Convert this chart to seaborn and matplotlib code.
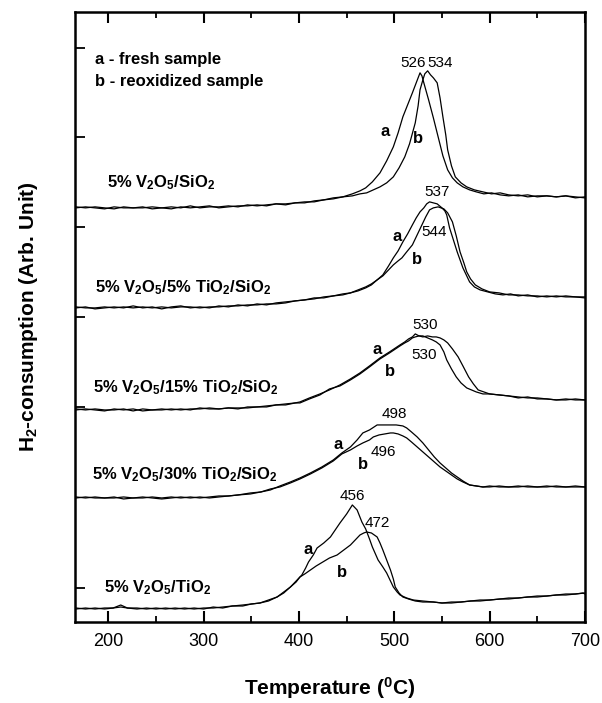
import matplotlib
matplotlib.use("Agg")
import matplotlib.pyplot as plt
from matplotlib.ticker import MultipleLocator, FixedLocator
import numpy as np
import pandas as pd
import seaborn as sns

# ---- TPR profiles: (temperature in degC, H2 signal above the trace's own baseline) ----
v_sio2_a = [(166,0),(176,1),(186,0),(196,-1),(206,1),(216,0),(226,0),(236,1),(246,-1),(256,0),(266,1),(276,0),
            (286,2),(296,0),(306,1),(316,1),(326,2),(336,1),(346,3),(356,2),(366,3),(376,4),(386,3),(396,5),
            (406,6),(416,6),(426,8),(436,9),(446,11),(456,14),(464,17),(470,20),(477,26),(485,35),(492,47),
            (499,61),(504,75),(509,91),(514,103),(519,115),(523,125),(527,135),(529,132),(531,125),(536,108),
            (541,90),(546,71),(551,52),(556,38),(561,30),(566,25),(572,21),(579,18),(586,16),(594,14),(602,15),
            (611,13),(620,12),(630,13),(640,11),(650,12),(660,12),(670,11),(680,12),(690,10),(700,11)]
v_sio2_b = [(166,1),(176,0),(186,1),(196,0),(206,-1),(216,1),(226,0),(236,0),(246,1),(256,0),(266,-1),(276,1),
            (286,0),(296,1),(306,2),(316,0),(326,1),(336,2),(346,2),(356,3),(366,2),(376,4),(386,4),(396,5),
            (406,5),(416,7),(426,8),(436,10),(446,11),(456,12),(464,14),(471,15),(478,18),(485,21),(492,25),
            (499,31),(505,40),(511,51),(516,64),(522,85),(525,102),(527,118),(530,128),(532,134),(535,137),
            (538,133),(541,130),(545,125),(548,110),(551,91),(554,73),(556,58),(560,42),(564,31),(570,25),
            (576,21),(584,18),(593,16),(602,14),(611,15),(620,13),(630,12),(640,13),(650,11),(660,12),(670,11),
            (680,12),(690,11),(700,10)]

v5ti_a = [(166,0),(176,1),(186,-1),(196,0),(206,1),(216,0),(226,2),(236,0),(246,1),(256,-1),(266,1),(276,2),
          (286,0),(296,1),(306,0),(316,2),(326,1),(336,3),(346,2),(356,4),(366,3),(376,5),(386,6),(396,7),
          (406,8),(416,10),(426,10),(436,12),(446,14),(454,15),(462,18),(470,21),(476,24),(482,28),(488,33),
          (494,42),(499,50),(504,57),(509,66),(514,74),(519,83),(523,90),(527,96),(531,100),(534,104),(537,106),
          (541,105),(545,104),(550,100),(553,97),(555,93),(558,80),(562,68),(566,56),(569,48),(572,40),(576,32),
          (579,26),(584,21),(590,18),(598,16),(606,14),(614,13),(622,14),(630,12),(640,13),(650,11),(660,12),
          (670,11),(680,12),(690,11),(700,11)]
v5ti_b = [(166,1),(176,0),(186,0),(196,1),(206,0),(216,1),(226,0),(236,1),(246,0),(256,1),(266,0),(276,1),
          (286,1),(296,0),(306,1),(316,1),(326,2),(336,2),(346,3),(356,3),(366,4),(376,4),(386,5),(396,7),
          (406,8),(416,9),(426,11),(436,12),(446,13),(454,15),(462,17),(470,20),(476,23),(482,28),(488,32),
          (494,38),(499,43),(504,47),(508,50),(513,56),(519,63),(524,73),(529,83),(533,91),(537,98),(541,100),
          (546,101),(549,100),(552,99),(556,95),(561,86),(565,72),(569,56),(573,45),(576,36),(580,29),(585,23),
          (592,19),(600,16),(610,15),(620,13),(630,13),(640,12),(650,12),(660,11),(670,12),(680,11),(690,11),
          (700,10)]

v15ti_a = [(166,0),(176,1),(186,0),(196,-1),(206,1),(216,0),(226,1),(236,-1),(246,0),(256,1),(266,0),(276,1),
           (286,0),(296,2),(306,1),(316,1),(326,2),(336,1),(346,3),(356,3),(366,4),(376,5),(386,6),(396,7),
           (401,8),(411,12),(422,16),(432,20),(443,25),(454,31),(464,37),(474,44),(485,52),(495,58),(506,65),
           (511,68),(515,71),(519,73),(522,76),(526,74),(530,73),(535,74),(540,73),(544,73),(548,72),(552,70),
           (556,67),(561,61),(567,53),(572,44),(578,33),(583,26),(588,20),(594,18),(600,16),(610,15),(620,14),
           (630,13),(640,12),(650,12),(660,11),(670,10),(680,11),(690,10),(700,10)]
v15ti_b = [(166,1),(176,0),(186,1),(196,0),(206,0),(216,1),(226,-1),(236,1),(246,0),(256,0),(266,1),(276,0),
           (286,1),(296,1),(306,2),(316,1),(326,2),(336,2),(346,2),(356,3),(366,3),(376,5),(386,5),(396,7),
           (401,7),(411,11),(422,15),(432,21),(443,24),(454,30),(464,36),(474,43),(485,51),(495,57),(506,64),
           (511,67),(515,69),(519,72),(522,73),(526,74),(530,74),(535,72),(540,70),(544,68),(548,65),(552,58),
           (555,50),(560,41),(565,33),(570,27),(576,22),(581,20),(586,18),(593,16),(600,16),(610,15),(620,14),
           (630,12),(640,13),(650,11),(660,11),(670,10),(680,10),(690,11),(700,10)]

v30ti_a = [(166,0),(176,1),(186,0),(196,0),(206,1),(216,-1),(226,0),(236,1),(246,0),(256,-1),(266,0),(276,1),
           (286,0),(296,1),(306,0),(316,1),(326,2),(336,3),(349,5),(360,6),(370,8),(380,12),(391,16),(401,20),
           (412,25),(424,31),(436,38),(445,45),(454,51),(461,58),(467,65),(474,68),(482,73),(490,73),(496,73),
           (502,73),(509,72),(513,70),(518,66),(524,61),(530,55),(536,48),(542,41),(548,35),(554,30),(560,25),
           (566,21),(572,17),(579,13),(586,12),(593,11),(600,12),(610,11),(620,11),(630,12),(640,11),(650,11),
           (660,12),(670,11),(680,11),(690,12),(700,11)]
v30ti_b = [(166,1),(176,0),(186,1),(196,0),(206,0),(216,1),(226,0),(236,0),(246,1),(256,0),(266,1),(276,0),
           (286,1),(296,0),(306,1),(316,2),(326,2),(336,3),(349,4),(360,6),(370,9),(380,11),(391,15),(401,19),
           (412,24),(424,30),(436,37),(445,44),(454,48),(461,52),(467,55),(474,58),(478,61),(484,63),(490,64),
           (496,65),(499,65),(504,64),(509,62),(513,60),(518,56),(524,51),(530,46),(536,41),(542,36),(548,31),
           (554,27),(560,23),(566,19),(572,16),(579,13),(586,12),(593,11),(600,11),(610,12),(620,11),(630,11),
           (640,12),(650,11),(660,11),(670,12),(680,11),(690,11),(700,11)]

vtio2_a = [(166,0),(176,1),(186,0),(196,1),(205,1),(213,4),(220,1),(230,0),(240,1),(250,0),(260,1),(270,0),
           (280,1),(290,0),(300,1),(310,1),(320,2),(330,3),(341,4),(350,5),(359,6),(368,9),(377,12),(384,17),
           (391,22),(397,28),(403,34),(407,41),(410,47),(415,54),(419,61),(426,66),(433,72),(438,79),(443,86),
           (450,95),(456,104),(461,99),(466,87),(470,80),(474,70),(477,62),(483,49),(488,42),(492,36),(496,28),
           (499,22),(503,17),(506,14),(513,11),(520,9),(530,8),(541,7),(550,6),(560,7),(570,7),(580,8),(590,8),
           (600,9),(611,10),(620,10),(630,11),(640,12),(650,12),(660,13),(670,14),(680,14),(690,15),(698,16),
           (700,15)]
vtio2_b = [(166,1),(176,0),(186,1),(196,0),(205,1),(213,2),(220,1),(230,1),(240,0),(250,1),(260,0),(270,1),
           (280,0),(290,1),(300,0),(310,2),(320,1),(330,3),(341,3),(350,5),(359,6),(368,8),(377,12),(384,16),
           (391,22),(397,27),(401,32),(406,35),(412,39),(418,43),(425,47),(432,51),(440,54),(447,59),(454,64),
           (459,69),(464,74),(468,76),(471,77),(476,76),(479,74),(482,72),(485,66),(488,59),(492,49),(496,39),
           (499,30),(501,22),(505,16),(509,12),(515,10),(522,8),(530,7),(541,7),(550,6),(560,6),(570,7),(580,8),
           (590,9),(600,9),(611,10),(620,11),(630,11),(640,12),(650,13),(660,13),(670,14),(680,15),(690,15),
           (700,16)]

samples = ["5% V$_2$O$_5$/SiO$_2$", "5% V$_2$O$_5$/5% TiO$_2$/SiO$_2$", "5% V$_2$O$_5$/15% TiO$_2$/SiO$_2$",
           "5% V$_2$O$_5$/30% TiO$_2$/SiO$_2$", "5% V$_2$O$_5$/TiO$_2$"]
offsets = [414, 314, 212, 124, 13]          # vertical stacking of the traces
fresh = [v_sio2_a, v5ti_a, v15ti_a, v30ti_a, vtio2_a]
reox = [v_sio2_b, v5ti_b, v15ti_b, v30ti_b, vtio2_b]

# peak maxima labels: (text, T position, y position)
peak_labels = [("526", 520, 559), ("534", 548, 559), ("537", 545, 430), ("544", 542, 390),
               ("530", 532, 297), ("530", 531, 267), ("498", 500, 208), ("496", 489, 170),
               ("456", 456, 126), ("472", 482, 99)]
# curve letters: (letter, T, y)
curve_letters = [("a", 490, 490), ("b", 525, 483), ("a", 503, 385), ("b", 524, 362),
                 ("a", 482, 272), ("b", 496, 250), ("a", 441, 177), ("b", 467, 157),
                 ("a", 410, 72), ("b", 445, 49)]
sample_pos = [(199, 439), (186, 334), (184, 234), (183, 147), (195, 34)]

rows = []
for name, off, fa, rb in zip(samples, offsets, fresh, reox):
    for run, pts in (("a", fa), ("b", rb)):
        for t, s in pts:
            rows.append({"sample": name, "run": run, "curve": name + run, "T": t, "H2": s + off})
df = pd.DataFrame(rows)

sns.set_theme(style="ticks")
plt.rcParams["font.family"] = ["Liberation Sans", "DejaVu Sans"]
plt.rcParams["mathtext.fontset"] = "custom"
plt.rcParams["mathtext.rm"] = "Liberation Sans:bold"
plt.rcParams["mathtext.bf"] = "Liberation Sans:bold"
plt.rcParams["mathtext.default"] = "rm"
for key in ("text.color", "axes.labelcolor", "xtick.color", "ytick.color", "axes.edgecolor"):
    plt.rcParams[key] = "black"

fig = plt.figure(figsize=(6.02, 7.03), dpi=100)
ax = fig.add_axes([0.1246, 0.1152, 0.847, 0.868])

sns.lineplot(data=df, x="T", y="H2", units="curve", estimator=None, sort=False,
             color="black", linewidth=0.9, ax=ax, legend=False)

ax.set_xlim(165, 700)
ax.set_ylim(0, 610)
ax.xaxis.set_major_locator(MultipleLocator(100))
ax.xaxis.set_minor_locator(MultipleLocator(50))
ax.yaxis.set_major_locator(FixedLocator([34, 215, 305, 395, 485, 574]))
ax.set_yticklabels([])
ax.tick_params(axis="x", which="major", direction="in", length=8, width=1.5, top=True,
               labelsize=13, pad=8, colors="black")
ax.tick_params(axis="x", which="minor", direction="in", length=4, width=1.3, top=True)
ax.tick_params(axis="y", which="major", direction="in", length=7, width=1.3, left=True, right=False)
for sp in ax.spines.values():
    sp.set_linewidth(1.8)
    sp.set_color("black")

ax.set_xlabel("Temperature ($^0$C)", fontsize=15, fontweight="bold", labelpad=18)
ax.set_ylabel("H$_2$-consumption (Arb. Unit)", fontsize=15, fontweight="bold", labelpad=22)

ax.text(186, 562, "a - fresh sample", fontsize=12, fontweight="bold", va="center", ha="left")
ax.text(186, 540, "b - reoxidized sample", fontsize=12, fontweight="bold", va="center", ha="left")

for name, (tx, ty) in zip(samples, sample_pos):
    ax.text(tx, ty, name, fontsize=12, fontweight="bold", va="center", ha="left")
for txt, tx, ty in peak_labels:
    ax.text(tx, ty, txt, fontsize=11, va="center", ha="center")
for txt, tx, ty in curve_letters:
    ax.text(tx, ty, txt, fontsize=12, fontweight="bold", va="center", ha="center")

fig.savefig("out.png", dpi=100, facecolor="white")
